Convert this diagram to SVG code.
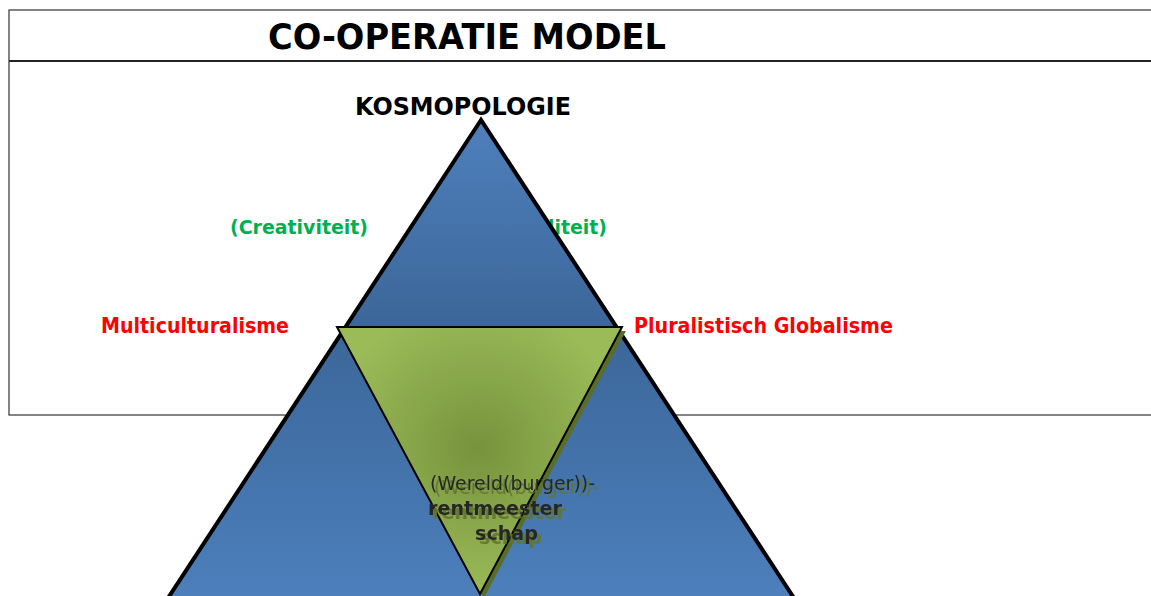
<svg xmlns="http://www.w3.org/2000/svg" width="1151" height="596" viewBox="0 0 1151 596">
<style>
.t{font-family:"DejaVu Sans","Liberation Sans",sans-serif;font-weight:bold}
.green{fill:#00b050}
.red{fill:#ff0000}
.ctr{font-family:"DejaVu Sans","Liberation Sans",sans-serif;font-size:20px;fill:#262626}
</style>
<defs>
<linearGradient id="blue" x1="0" y1="119" x2="0" y2="700" gradientUnits="userSpaceOnUse">
<stop offset="0" stop-color="#4f80bc"/>
<stop offset="0.36" stop-color="#3b6699"/>
<stop offset="0.82" stop-color="#4c7fbb"/>
<stop offset="1" stop-color="#4f82bf"/>
</linearGradient>
<radialGradient id="green" cx="478" cy="448" r="150" gradientUnits="userSpaceOnUse">
<stop offset="0" stop-color="#77933c"/>
<stop offset="1" stop-color="#9bbb59"/>
</radialGradient>
<filter id="tshadow" x="-10%" y="-10%" width="130%" height="130%">
<feOffset in="SourceAlpha" dx="4" dy="4" result="o"/>
<feFlood flood-color="#5f7530" flood-opacity="0.9"/>
<feComposite in2="o" operator="in" result="s"/>
<feMerge><feMergeNode in="s"/><feMergeNode in="SourceGraphic"/></feMerge>
</filter>
</defs>
<g id="frame">
<rect x="9" y="10" width="1150" height="405" fill="#fff" stroke="#333" stroke-width="1.2"/>
<line x1="9" y1="61" x2="1151" y2="61" stroke="#222" stroke-width="2"/>
</g>
<g id="title">
<text class="t" x="268" y="49" font-size="36" textLength="398" lengthAdjust="spacingAndGlyphs">CO-OPERATIE MODEL</text>
</g>
<g id="kosmopologie">
<text class="t" x="355" y="115" font-size="24" textLength="216" lengthAdjust="spacingAndGlyphs">KOSMOPOLOGIE</text>
</g>
<g id="label-creativiteit">
<text class="t green" x="230" y="234" font-size="20" textLength="138" lengthAdjust="spacingAndGlyphs">(Creativiteit)</text>
</g>
<g id="label-liteit">
<text class="t green" x="548" y="234" font-size="20" textLength="59" lengthAdjust="spacingAndGlyphs">liteit)</text>
</g>
<g id="label-multiculturalisme">
<text class="t red" x="101" y="333" font-size="21" textLength="188" lengthAdjust="spacingAndGlyphs">Multiculturalisme</text>
</g>
<g id="label-pluralistisch">
<text class="t red" x="634" y="333" font-size="21" textLength="259" lengthAdjust="spacingAndGlyphs">Pluralistisch Globalisme</text>
</g>
<g id="blue-triangle">
<polygon points="481,120 117,676 845,676" fill="url(#blue)" stroke="#000" stroke-width="4" stroke-linejoin="miter"/>
</g>
<g id="green-triangle">
<polygon points="341,331 626,331 484,598" fill="#5a6e2a"/>
<polygon points="337,327 622,327 480,594" fill="url(#green)" stroke="#000" stroke-width="2"/>
</g>
<g id="center-text" filter="url(#tshadow)">
<text class="ctr" x="430" y="490" textLength="165" lengthAdjust="spacingAndGlyphs">(Wereld(burger))-</text>
<text class="ctr" x="428" y="515" font-weight="bold" textLength="134" lengthAdjust="spacingAndGlyphs">rentmeester</text>
<text class="ctr" x="475" y="540" font-weight="bold" textLength="63" lengthAdjust="spacingAndGlyphs">schap</text>
</g>
<g id="connectors"/>
</svg>
